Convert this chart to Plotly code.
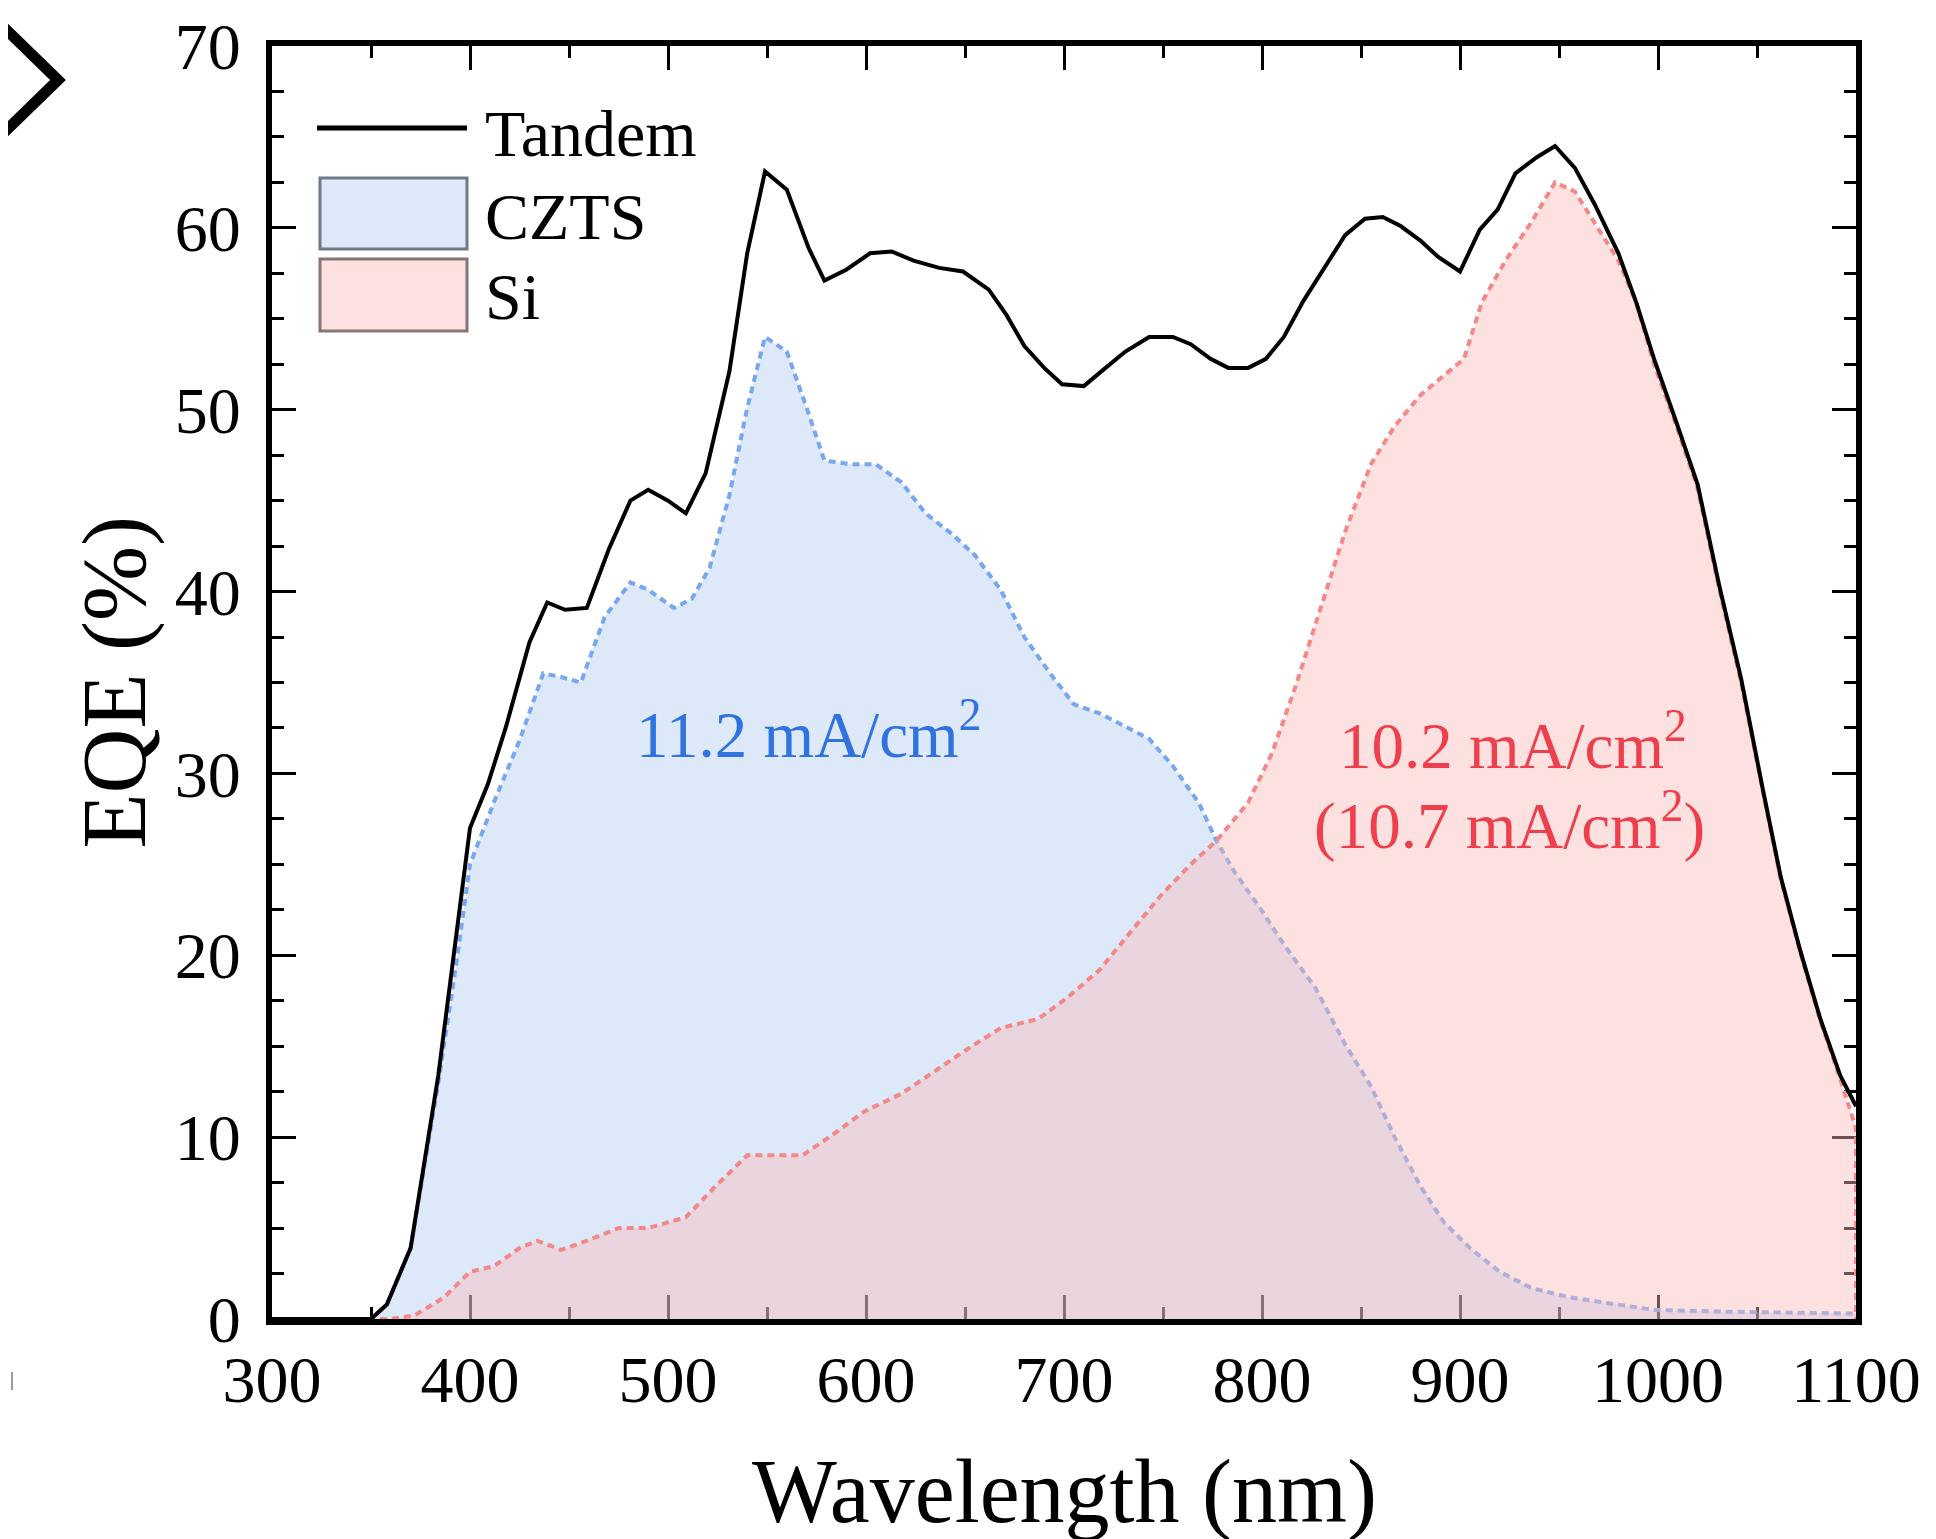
import plotly.graph_objects as go

# ---------------- data ----------------
tandem_x = [300, 350, 358, 370, 384, 393, 400, 409, 418, 430, 439, 448, 459, 470, 481, 490, 500, 509, 519, 531,
            540, 549, 560, 571, 579, 590, 602, 613, 624, 637, 649, 662, 671, 680, 690, 699, 710, 721, 731, 743,
            755, 764, 774, 783, 793, 802, 811, 821, 833, 842, 852, 861, 870, 880, 889, 900, 910, 919, 928, 939,
            948, 958, 968, 980, 989, 998, 1009, 1020, 1031, 1042, 1053, 1062, 1072, 1082, 1092, 1100]
tandem_y = [0, 0, 0.8, 3.9, 13.4, 20.9, 27, 29.4, 32.5, 37.2, 39.4, 39.0, 39.1, 42.3, 45.0, 45.6, 45.0, 44.3, 46.5, 52.1,
            58.6, 63.1, 62.1, 58.9, 57.1, 57.7, 58.6, 58.7, 58.2, 57.8, 57.6, 56.6, 55.2, 53.5, 52.3, 51.4, 51.3, 52.3, 53.2, 54.0,
            54.0, 53.6, 52.8, 52.3, 52.3, 52.8, 54.0, 56.0, 58.1, 59.6, 60.5, 60.6, 60.1, 59.3, 58.4, 57.6, 59.9, 61.0, 63.0, 63.9,
            64.5, 63.3, 61.3, 58.6, 55.9, 52.8, 49.4, 45.9, 40.3, 35.2, 29.1, 24.3, 20.2, 16.5, 13.4, 11.7]

czts_x = [300, 350, 358, 370, 384, 393, 400, 412, 425, 437, 446, 456, 468, 481, 490, 503, 512, 521, 531, 540,
          549, 560, 571, 579, 593, 605, 618, 630, 643, 655, 668, 680, 693, 705, 718, 730, 743, 755, 768, 777,
          786, 799, 811, 827, 842, 855, 867, 880, 892, 905, 920, 936, 955, 973, 998, 1036, 1100]
czts_y = [0, 0, 0.8, 3.9, 13.0, 19.5, 25, 28.4, 31.8, 35.5, 35.3, 35.0, 38.6, 40.5, 40.1, 39.1, 39.6, 41.3, 45.3, 50.1,
          54.0, 53.2, 49.8, 47.2, 47.0, 47.0, 46.0, 44.3, 43.2, 42.0, 40.1, 37.5, 35.5, 33.8, 33.3, 32.6, 31.9, 30.4, 28.4, 26.3,
          24.6, 22.6, 20.6, 18.2, 15.1, 12.8, 10.0, 7.3, 5.3, 3.9, 2.6, 1.7, 1.2, 0.9, 0.5, 0.4, 0.3]

si_x = [300, 360, 372, 387, 400, 412, 425, 434, 446, 459, 475, 490, 509, 524, 540, 552, 568, 584, 599, 618,
        637, 652, 668, 687, 702, 718, 733, 749, 764, 777, 793, 805, 817, 830, 842, 855, 867, 880, 892, 902,
        911, 923, 936, 948, 958, 968, 980, 989, 998, 1009, 1020, 1031, 1042, 1053, 1062, 1072, 1082, 1092, 1100, 1100]
si_y = [0, 0, 0.2, 1.2, 2.6, 2.9, 3.9, 4.3, 3.8, 4.3, 5.0, 5.0, 5.6, 7.3, 9.0, 9.0, 9.0, 10.2, 11.4, 12.4,
        13.8, 14.9, 16.0, 16.5, 17.7, 19.2, 21.2, 23.3, 25.0, 26.3, 28.4, 31.1, 34.8, 39.2, 43.3, 47.0, 49.1, 50.8, 51.9, 52.8,
        55.9, 58.2, 60.3, 62.5, 62.0, 60.3, 58.2, 55.9, 52.5, 49.2, 45.7, 40.1, 35.0, 29.0, 24.2, 20.1, 16.4, 13.2, 10.5, 0]

series_names = ["Tandem", "CZTS", "Si"]
czts_label = "11.2 mA/cm<sup>2</sup>"
si_label_1 = "10.2 mA/cm<sup>2</sup>"
si_label_2 = "(10.7 mA/cm<sup>2</sup>)"

# ---------------- layout constants ----------------
W, H = 1936, 1539
OFF = 8                      # browser body margin
L, R, T, B = 272, 1856, 46, 1319   # plot area in page pixels
FONT = "Liberation Serif"

def px(xp):
    return (xp - L) / (R - L)

def py(yp):
    return (B - yp) / (B - T)

fig = go.Figure()
fig.add_trace(go.Scatter(x=czts_x, y=czts_y, mode="lines", name=series_names[1],
                         line=dict(color="#78a6f0", width=4, dash="7px,5px"),
                         fill="tozeroy", fillcolor="rgba(142,182,235,0.30)", showlegend=False))
fig.add_trace(go.Scatter(x=si_x, y=si_y, mode="lines", name=series_names[2],
                         line=dict(color="#f48888", width=4, dash="7px,5px"),
                         fill="tozeroy", fillcolor="rgba(250,185,185,0.44)", showlegend=False))
fig.add_trace(go.Scatter(x=tandem_x, y=tandem_y, mode="lines", name=series_names[0],
                         line=dict(color="black", width=4), showlegend=False))

axis_common = dict(
    showgrid=False, zeroline=False, showline=True, linecolor="black", linewidth=6,
    mirror="allticks", ticks="inside", tickcolor="black", tickwidth=3, ticklen=24,
    tickfont=dict(family=FONT, size=66, color="black"), layer="below traces",
    automargin=False,
)
fig.update_xaxes(range=[300, 1100], dtick=100, tick0=300,
                 minor=dict(dtick=50, ticks="inside", ticklen=12, tickwidth=3, tickcolor="black"),
                 ticklabelstandoff=-2, **axis_common)
fig.update_yaxes(range=[0, 70], dtick=10, tick0=0,
                 minor=dict(dtick=2.5, ticks="inside", ticklen=12, tickwidth=3, tickcolor="black"),
                 ticklabelstandoff=12, **axis_common)

shapes = []
annotations = []
# legend (hand-drawn)
shapes.append(dict(type="line", xref="paper", yref="paper", x0=px(317), x1=px(467), y0=py(128), y1=py(128),
                   line=dict(color="black", width=5)))
shapes.append(dict(type="rect", xref="paper", yref="paper", x0=px(320), x1=px(467), y0=py(249), y1=py(178),
                   fillcolor="#dde9f9", line=dict(color="#6e7a86", width=3)))
shapes.append(dict(type="rect", xref="paper", yref="paper", x0=px(320), x1=px(467), y0=py(331), y1=py(259),
                   fillcolor="#fde0e0", line=dict(color="#857575", width=3)))
for name, yy in zip(series_names, [133, 216, 296]):
    annotations.append(dict(text=name, xref="paper", yref="paper", x=px(483), y=py(yy),
                            xanchor="left", yanchor="middle", showarrow=False,
                            font=dict(family=FONT, size=66, color="black")))

# panel arrow (partially cut off)
shapes.append(dict(type="path", xref="paper", yref="paper",
                   path=f"M {px(-12)},{py(12)} L {px(58)},{py(80)} L {px(-12)},{py(148)}",
                   line=dict(color="black", width=11)))
shapes.append(dict(type="line", xref="paper", yref="paper", x0=px(12), x1=px(12), y0=py(1372), y1=py(1390),
                   line=dict(color="#999999", width=2)))

# integrated current annotations
annotations.append(dict(text=czts_label, x=571, y=32.4, xref="x", yref="y", showarrow=False,
                        font=dict(family=FONT, size=65, color="#2f72e0")))
annotations.append(dict(text=si_label_1, x=927, y=31.8, xref="x", yref="y", showarrow=False,
                        font=dict(family=FONT, size=65, color="#ee3f4c")))
annotations.append(dict(text=si_label_2, x=925, y=27.4, xref="x", yref="y", showarrow=False,
                        font=dict(family=FONT, size=65, color="#ee3f4c")))

# axis titles
annotations.append(dict(text="Wavelength (nm)", xref="paper", yref="paper", x=0.5, y=py(1492),
                        xanchor="center", yanchor="middle", showarrow=False,
                        font=dict(family=FONT, size=90, color="black")))
annotations.append(dict(text="EQE (%)", xref="paper", yref="paper", x=px(114), y=0.5, textangle=-90,
                        xanchor="center", yanchor="middle", showarrow=False,
                        font=dict(family=FONT, size=90, color="black")))

ml, mt = L - OFF, T - OFF
fig.update_layout(width=W, height=H,
                  margin=dict(l=ml, r=W - ml - (R - L), t=mt, b=H - mt - (B - T), pad=0, autoexpand=False),
                  paper_bgcolor="white", plot_bgcolor="white",
                  shapes=shapes, annotations=annotations, showlegend=False)

fig.write_html("out.html")
